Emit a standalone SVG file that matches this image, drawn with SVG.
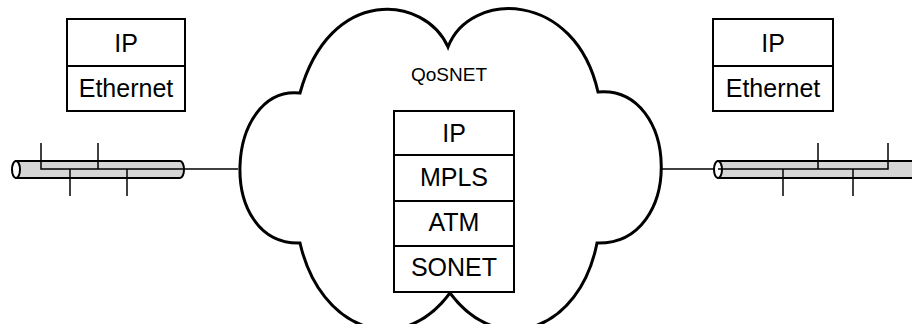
<svg xmlns="http://www.w3.org/2000/svg" width="912" height="324" viewBox="0 0 912 324">
  <style>
    .box { fill: #fff; stroke: #000; stroke-width: 2; }
    .div { stroke: #000; stroke-width: 2; }
    .lbl { font-family: "Liberation Sans", Arial, sans-serif; font-size: 25px; fill: #000; text-anchor: middle; }
    .cloud { fill: #fff; stroke: #000; stroke-width: 3; }
    .tube { fill: #d6d6d6; stroke: #000; stroke-width: 2; }
    .tap { fill: none; stroke: #000; stroke-width: 1.5; }
    .link { fill: none; stroke: #000; stroke-width: 1.5; }
  </style>
  <rect width="912" height="324" fill="#fff"/>

  <!-- network cloud -->
  <g id="qosnet">
    <path class="cloud" d="M448,47 C425,-5 330,-15 300,93 C225,85 215,245 300,243 C320,330 400,360 450,293 C500,360 580,330 597,243 C685,245 680,85 598,92 C575,-10 470,-10 448,47 Z"/>
    <text class="lbl" x="449" y="81" style="font-size:19px">QoSNET</text>
  </g>

  <!-- connectors between cables and cloud -->
  <g id="connectors">
    <path class="link" d="M184,169 H238"/>
    <path class="link" d="M661,169 H716"/>
  </g>

  <!-- left Ethernet segment -->
  <g id="cable-left">
    <path class="tube" d="M16,161 H180 A4,8.5 0 0 1 180,178 H16 Z"/>
    <ellipse cx="16" cy="169.5" rx="4" ry="8.5" fill="#fff" stroke="#000" stroke-width="2"/>
    <path class="tap" d="M41,143 V169 H184"/>
    <path class="tap" d="M98,143 V169"/>
    <path class="tap" d="M70,169 V196"/>
    <path class="tap" d="M127,169 V196"/>
  </g>

  <!-- right Ethernet segment -->
  <g id="cable-right">
    <path class="tube" d="M718,161 H914 V178 H718 Z"/>
    <ellipse cx="718" cy="169.5" rx="4" ry="8.5" fill="#fff" stroke="#000" stroke-width="2"/>
    <path class="tap" d="M718,169 H888 V143"/>
    <path class="tap" d="M818,143 V169"/>
    <path class="tap" d="M783,169 V196"/>
    <path class="tap" d="M853,169 V196"/>
  </g>

  <!-- left host protocol stack -->
  <g id="stack-left">
    <rect class="box" x="67" y="19" width="118" height="92"/>
    <line class="div" x1="67" y1="66" x2="185" y2="66"/>
    <text class="lbl" x="126" y="52">IP</text>
    <text class="lbl" x="126" y="97">Ethernet</text>
  </g>

  <!-- right host protocol stack -->
  <g id="stack-right">
    <rect class="box" x="713" y="19" width="120" height="92"/>
    <line class="div" x1="713" y1="66" x2="833" y2="66"/>
    <text class="lbl" x="773" y="52">IP</text>
    <text class="lbl" x="773" y="97">Ethernet</text>
  </g>

  <!-- core protocol stack -->
  <g id="stack-core">
    <rect class="box" x="394" y="111" width="120" height="181"/>
    <line class="div" x1="394" y1="155" x2="514" y2="155"/>
    <line class="div" x1="394" y1="201" x2="514" y2="201"/>
    <line class="div" x1="394" y1="246" x2="514" y2="246"/>
    <text class="lbl" x="454" y="142">IP</text>
    <text class="lbl" x="454" y="186">MPLS</text>
    <text class="lbl" x="454" y="231">ATM</text>
    <text class="lbl" x="454" y="276">SONET</text>
  </g>
</svg>
